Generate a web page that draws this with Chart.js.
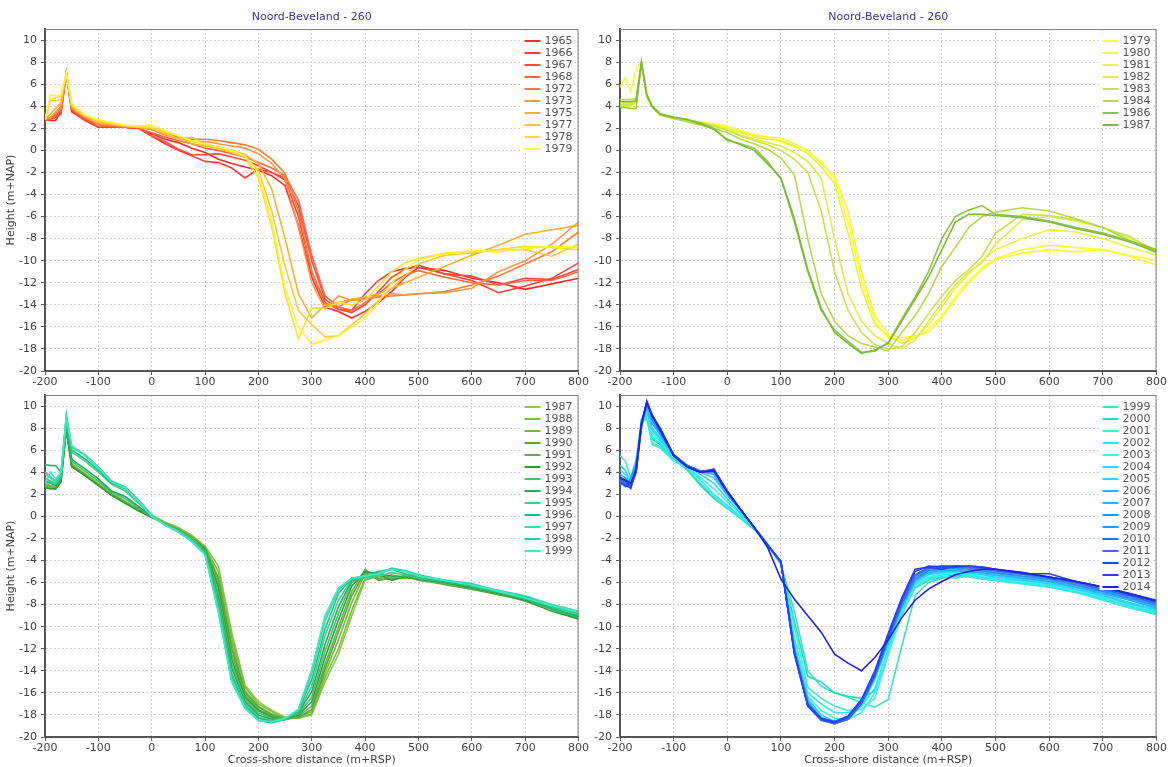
<!DOCTYPE html>
<html>
<head>
<meta charset="utf-8">
<script src="https://cdn.jsdelivr.net/npm/chart.js@4/dist/chart.umd.min.js"></script>
<style>
  html, body { margin: 0; padding: 0; background: #fff; }
  canvas { position: absolute; }
</style>
</head>
<body>
<canvas id="c1" width="590" height="392" style="left:0;top:0"></canvas>
<canvas id="c2" width="584" height="392" style="left:584px;top:0"></canvas>
<canvas id="c3" width="590" height="383" style="left:0;top:384px"></canvas>
<canvas id="c4" width="584" height="383" style="left:584px;top:384px"></canvas>
<script>
// cross-shore distance (m+RSP), shared by every profile
const dist = [-200,-190,-180,-170,-160,-150,-140,-125,-100,-75,-50,-25,0,25,50,75,100,125,150,175,200,225,250,275,300,325,350,375,400,425,450,475,500,550,600,650,700,750,800];
// height axis tick labels
const heightTicks = [-20,-18,-16,-14,-12,-10,-8,-6,-4,-2,0,2,4,6,8,10];

// panel 1: 1965 - 1979
const years1 = ['1965','1966','1967','1968','1972','1973','1975','1977','1978','1979'];
const p1y1965 = [2.8,2.7,2.7,3.6,7.0,3.5,3.2,2.7,2.1,2.1,2.1,2.0,1.5,1.0,0.7,0.2,-0.2,-0.8,-1.2,-1.5,-1.8,-2.3,-3.2,-6.8,-11.5,-14.2,-14.6,-15.2,-14.6,-13.8,-12.8,-11.5,-10.6,-10.9,-11.6,-12.0,-12.6,-12.1,-11.6];
const p1y1966 = [2.8,2.8,3.0,3.3,7.0,3.6,3.3,2.8,2.1,2.1,2.1,2.0,1.3,0.6,0.0,-0.5,-1.0,-1.1,-1.6,-2.5,-1.7,-2.0,-2.7,-6.0,-11.0,-13.8,-14.4,-14.5,-13.0,-11.8,-11.0,-10.7,-10.6,-11.2,-11.8,-12.9,-12.3,-11.6,-10.2];
const p1y1967 = [2.8,2.8,3.2,3.8,7.0,3.7,3.3,2.8,2.2,2.2,2.1,2.0,1.3,0.8,0.1,-0.4,-0.4,-0.3,-0.6,-0.9,-1.4,-2.0,-2.5,-5.0,-10.0,-13.5,-14.4,-14.7,-14.0,-12.8,-11.5,-10.8,-10.4,-11.2,-11.4,-12.2,-11.6,-11.7,-10.8];
const p1y1968 = [2.8,2.8,3.1,3.6,7.0,3.8,3.4,2.9,2.2,2.2,2.1,2.0,1.6,1.2,0.9,0.6,0.2,0.0,-0.3,-0.6,-1.1,-1.6,-2.3,-4.5,-9.5,-13.2,-14.2,-14.5,-13.8,-13.0,-12.0,-11.3,-10.9,-11.5,-12.0,-12.2,-11.8,-11.8,-11.0];
const p1y1972 = [2.8,2.9,3.3,3.8,7.0,3.8,3.4,3.0,2.3,2.3,2.2,2.1,1.9,1.5,1.2,1.0,1.0,0.9,0.7,0.5,0.1,-0.8,-2.1,-5.5,-11.0,-14.0,-14.2,-13.5,-13.4,-13.3,-13.2,-13.1,-13.0,-12.8,-12.2,-11.4,-10.3,-9.2,-7.4];
const p1y1973 = [2.8,3.0,3.5,4.0,7.0,3.9,3.5,3.0,2.4,2.3,2.2,2.1,1.9,1.4,1.1,0.8,0.8,0.6,0.4,0.2,-0.3,-1.2,-2.6,-7.0,-12.0,-14.4,-13.2,-13.6,-13.5,-13.2,-13.0,-13.1,-13.0,-12.9,-12.5,-11.0,-10.0,-8.5,-6.5];
const p1y1975 = [2.8,3.3,3.8,4.3,7.0,4.0,3.5,3.1,2.5,2.4,2.2,2.1,2.0,1.5,1.0,0.6,0.4,0.2,0.0,-0.4,-1.2,-3.5,-8.0,-13.0,-15.2,-14.0,-13.8,-13.5,-13.3,-13.0,-12.5,-12.0,-11.5,-10.5,-9.5,-8.6,-7.6,-7.2,-6.8];
const p1y1977 = [2.8,4.5,4.5,4.6,7.0,4.1,3.6,3.1,2.6,2.4,2.2,2.1,2.0,1.6,1.0,1.2,0.6,0.2,-0.2,-0.6,-1.8,-5.5,-10.5,-14.5,-15.8,-16.9,-16.8,-15.8,-14.8,-13.6,-12.5,-11.4,-10.3,-9.5,-9.3,-9.0,-9.0,-9.6,-8.5];
const p1y1978 = [2.8,4.6,4.8,4.9,7.0,4.2,3.7,3.2,2.7,2.5,2.2,2.2,2.1,1.7,1.3,0.8,0.5,0.3,-0.1,-0.6,-2.5,-7.0,-13.0,-17.1,-14.3,-14.3,-13.8,-14.0,-13.6,-12.3,-11.0,-10.2,-9.8,-9.3,-9.2,-9.0,-8.7,-8.8,-9.0];
const p1y1979 = [2.8,5.0,5.0,5.0,7.0,4.2,3.8,3.2,2.8,2.5,2.3,2.2,2.3,1.8,1.3,0.9,0.6,0.3,0.0,-0.5,-2.0,-6.5,-12.5,-16.0,-17.6,-17.2,-16.8,-16.0,-15.2,-13.8,-12.0,-10.8,-9.9,-9.4,-9.1,-9.2,-8.9,-8.7,-8.8];

// panel 2: 1979 - 1987
const years2 = ['1979','1980','1981','1982','1983','1984','1986','1987'];
const p2y1979 = [4.0,4.0,4.0,4.4,7.8,5.2,4.0,3.3,3.0,2.8,2.6,2.4,2.2,1.8,1.4,1.2,0.8,0.3,-0.2,-1.0,-2.6,-6.5,-11.8,-15.5,-17.0,-17.2,-16.9,-16.2,-15.0,-13.2,-11.8,-10.6,-9.8,-9.0,-8.6,-8.8,-9.0,-9.5,-10.0];
const p2y1980 = [5.7,6.6,5.3,7.4,8.0,5.1,4.0,3.3,2.9,2.7,2.5,2.3,2.1,1.7,1.3,1.2,1.1,0.6,0.0,-1.2,-2.3,-5.5,-11.0,-15.0,-16.6,-17.0,-16.8,-16.5,-15.2,-13.5,-12.0,-10.8,-9.9,-9.3,-9.0,-9.2,-9.0,-9.6,-10.4];
const p2y1981 = [4.3,4.3,4.3,4.6,8.0,5.0,3.9,3.2,2.9,2.7,2.5,2.3,2.0,1.6,1.2,1.0,0.9,0.4,-0.3,-1.5,-3.0,-7.5,-12.5,-15.8,-16.8,-17.5,-17.0,-15.8,-14.2,-12.5,-11.2,-10.0,-9.0,-8.0,-7.2,-7.4,-8.0,-8.8,-9.5];
const p2y1982 = [4.2,4.2,4.2,4.5,7.9,5.0,3.9,3.2,2.9,2.7,2.4,2.2,1.9,1.4,1.0,0.7,0.4,-0.2,-1.0,-2.5,-8.0,-13.0,-15.5,-16.8,-17.5,-18.0,-17.2,-15.5,-13.8,-12.2,-11.0,-10.2,-8.5,-6.3,-6.0,-6.4,-7.0,-8.0,-9.0];
const p2y1983 = [4.1,4.1,4.1,4.4,7.9,4.9,3.9,3.2,2.9,2.7,2.4,2.2,1.8,1.3,0.9,0.5,0.0,-0.8,-2.0,-5.5,-11.0,-14.5,-16.5,-17.6,-18.0,-17.8,-16.5,-14.8,-13.2,-11.8,-10.8,-9.6,-7.5,-5.8,-5.9,-6.3,-7.0,-7.8,-9.2];
const p2y1984 = [4.6,4.6,4.6,4.7,8.0,4.9,3.9,3.2,2.9,2.6,2.3,2.0,1.6,1.0,0.6,0.1,-0.7,-2.2,-8.0,-13.0,-15.5,-16.8,-17.5,-17.8,-18.2,-16.5,-15.0,-13.0,-10.5,-8.8,-7.0,-6.0,-5.6,-5.2,-5.5,-6.2,-7.0,-8.2,-9.3];
const p2y1986 = [3.9,3.9,3.8,3.8,8.0,5.0,4.0,3.3,3.0,2.8,2.5,2.0,0.9,0.6,0.2,-1.0,-2.6,-6.5,-11.0,-14.5,-16.3,-17.3,-18.3,-18.2,-17.4,-15.3,-13.3,-11.0,-8.0,-6.0,-5.4,-5.0,-5.8,-6.0,-6.4,-7.0,-7.5,-8.2,-9.0];
const p2y1987 = [4.4,4.4,4.4,4.5,7.9,5.0,4.0,3.3,3.0,2.8,2.4,1.9,1.0,0.5,0.0,-1.2,-2.5,-6.2,-10.8,-14.3,-16.5,-17.5,-18.4,-18.1,-17.5,-15.5,-13.5,-11.5,-9.0,-6.5,-5.8,-5.8,-5.9,-6.1,-6.5,-7.1,-7.6,-8.3,-9.2];

// panel 3: 1987 - 1999
const years3 = ['1987','1988','1989','1990','1991','1992','1993','1994','1995','1996','1997','1998','1999'];
const p3y1987 = [2.8,2.6,2.6,3.5,8.0,4.8,4.4,3.9,3.0,2.1,1.4,0.7,0.1,-0.5,-1.0,-1.7,-2.7,-4.5,-10.5,-15.3,-16.8,-17.6,-18.2,-18.3,-18.0,-15.0,-12.5,-9.0,-5.8,-5.4,-5.5,-5.6,-5.5,-5.9,-6.3,-6.9,-7.4,-8.0,-8.6];
const p3y1988 = [3.0,2.8,2.7,3.6,7.9,4.7,4.3,3.8,2.9,2.0,1.3,0.6,0.0,-0.6,-1.1,-1.8,-2.8,-5.0,-11.0,-15.5,-17.0,-17.7,-18.3,-18.3,-17.9,-14.6,-12.0,-8.5,-5.6,-5.5,-5.3,-5.6,-5.6,-6.0,-6.4,-6.8,-7.3,-8.1,-8.9];
const p3y1989 = [2.9,2.7,2.6,3.4,8.0,4.6,4.2,3.8,2.9,2.0,1.3,0.6,0.0,-0.6,-1.1,-1.9,-2.9,-5.5,-11.5,-15.8,-17.2,-17.9,-18.3,-18.2,-17.7,-14.2,-11.2,-7.8,-5.2,-5.6,-5.5,-5.4,-5.7,-6.1,-6.5,-6.9,-7.4,-8.3,-9.1];
const p3y1990 = [2.7,2.5,2.5,3.3,7.9,4.5,4.2,3.7,2.8,1.9,1.2,0.5,0.0,-0.7,-1.2,-1.9,-2.9,-5.8,-12.0,-16.0,-17.3,-18.0,-18.4,-18.2,-17.5,-13.8,-10.5,-7.2,-5.0,-5.8,-5.6,-5.5,-5.7,-6.2,-6.6,-7.1,-7.6,-8.4,-9.3];
const p3y1991 = [2.8,2.6,2.5,3.2,8.0,4.6,4.3,3.8,2.9,2.0,1.3,0.6,0.0,-0.7,-1.2,-2.0,-3.0,-6.2,-12.5,-16.2,-17.5,-18.1,-18.4,-18.1,-17.2,-13.4,-10.0,-6.8,-4.8,-5.7,-5.7,-5.4,-5.8,-6.1,-6.6,-7.0,-7.7,-8.5,-9.2];
const p3y1992 = [2.6,2.5,2.5,3.1,7.9,4.5,4.2,3.7,2.8,1.9,1.2,0.5,-0.1,-0.7,-1.3,-2.0,-3.0,-6.5,-13.0,-16.4,-17.6,-18.2,-18.4,-18.0,-16.8,-12.8,-9.4,-6.3,-5.0,-5.2,-5.8,-5.5,-5.7,-6.0,-6.5,-7.0,-7.6,-8.6,-9.3];
const p3y1993 = [3.5,3.2,2.9,3.6,8.3,5.0,4.6,4.1,3.2,2.2,1.6,0.8,0.0,-0.7,-1.3,-2.0,-3.1,-7.0,-13.4,-16.6,-17.8,-18.3,-18.4,-17.9,-16.4,-12.2,-8.8,-6.0,-5.3,-5.0,-5.6,-5.4,-5.6,-5.9,-6.4,-6.9,-7.5,-8.5,-9.0];
const p3y1994 = [3.2,3.0,2.8,3.5,8.5,5.2,4.8,4.3,3.4,2.3,1.8,0.9,0.0,-0.7,-1.3,-2.1,-3.1,-7.4,-13.8,-16.8,-18.0,-18.4,-18.4,-17.8,-15.9,-11.6,-8.2,-5.8,-5.5,-5.2,-5.4,-5.5,-5.6,-6.0,-6.3,-6.8,-7.5,-8.3,-9.1];
const p3y1995 = [4.0,3.6,3.2,3.8,8.8,5.8,5.5,5.0,4.0,2.9,2.3,1.2,0.1,-0.7,-1.3,-2.1,-3.2,-7.8,-14.2,-17.0,-18.2,-18.5,-18.4,-17.7,-15.4,-10.8,-7.6,-5.7,-5.6,-5.4,-5.1,-5.3,-5.6,-5.9,-6.3,-6.8,-7.4,-8.2,-8.9];
const p3y1996 = [4.7,4.6,4.6,4.0,9.0,6.0,5.7,5.2,4.2,3.0,2.5,1.4,0.1,-0.7,-1.4,-2.2,-3.3,-8.1,-14.5,-17.2,-18.3,-18.6,-18.4,-17.6,-14.8,-10.2,-7.0,-5.6,-5.5,-5.0,-4.8,-5.2,-5.5,-5.9,-6.4,-6.9,-7.5,-8.3,-9.2];
const p3y1997 = [3.8,3.5,3.0,3.7,9.1,6.2,6.0,5.5,4.4,3.1,2.6,1.5,0.1,-0.8,-1.4,-2.2,-3.4,-8.4,-14.8,-17.3,-18.5,-18.7,-18.4,-17.5,-14.3,-9.5,-6.7,-5.6,-5.4,-5.2,-4.7,-5.0,-5.4,-5.8,-6.2,-6.7,-7.2,-8.0,-8.6];
const p3y1998 = [3.3,3.1,2.9,3.6,9.2,6.3,6.0,5.6,4.5,3.2,2.7,1.5,0.1,-0.8,-1.4,-2.3,-3.4,-8.6,-15.0,-17.4,-18.5,-18.7,-18.4,-17.5,-14.0,-9.1,-6.6,-5.6,-5.5,-5.3,-4.7,-4.9,-5.3,-5.8,-6.1,-6.8,-7.3,-8.2,-8.8];
const p3y1999 = [3.0,4.0,3.4,4.0,9.0,6.4,6.1,5.5,4.4,3.1,2.6,1.4,0.0,-0.8,-1.4,-2.3,-3.5,-8.7,-15.0,-17.4,-18.5,-18.6,-18.3,-17.5,-13.9,-9.0,-6.5,-5.6,-5.4,-5.2,-4.8,-5.0,-5.4,-5.8,-6.2,-6.8,-7.4,-8.1,-8.7];

// panel 4: 1999 - 2014
const years4 = ['1999','2000','2001','2002','2003','2004','2005','2006','2007','2008','2009','2010','2011','2012','2013','2014'];
const p4y1999 = [3.0,3.4,3.5,4.6,8.6,8.8,6.7,6.3,5.2,4.2,2.8,1.6,0.7,-0.2,-1.2,-2.6,-4.4,-8.6,-14.0,-15.4,-16.0,-16.4,-16.9,-17.3,-16.6,-11.8,-7.2,-6.0,-5.6,-5.4,-5.5,-5.7,-5.8,-6.1,-6.4,-6.9,-7.5,-8.2,-8.9];
const p4y2000 = [4.6,4.2,3.0,4.8,8.8,9.2,7.0,6.5,5.3,4.3,2.9,1.7,0.8,-0.1,-1.1,-2.5,-4.3,-9.5,-14.5,-15.0,-16.0,-16.3,-16.5,-15.8,-12.2,-8.8,-6.5,-5.8,-5.5,-5.3,-5.3,-5.5,-5.7,-6.0,-6.3,-6.8,-7.4,-8.0,-8.7];
const p4y2001 = [5.5,5.0,3.5,5.2,8.5,9.0,6.5,6.2,5.0,4.4,3.0,1.8,0.8,-0.1,-1.1,-2.5,-4.3,-10.0,-15.5,-16.5,-17.2,-17.6,-17.5,-16.5,-12.5,-9.0,-6.4,-5.7,-5.4,-5.6,-5.4,-5.6,-5.8,-6.1,-6.4,-6.9,-7.6,-8.3,-8.9];
const p4y2002 = [4.2,3.8,3.2,4.5,8.7,9.3,7.2,6.6,5.4,4.5,3.3,2.0,1.0,0.0,-1.0,-2.5,-4.2,-11.0,-16.0,-17.0,-17.8,-17.8,-17.2,-15.6,-12.0,-8.6,-6.2,-5.6,-5.3,-5.2,-5.3,-5.5,-5.7,-6.0,-6.3,-6.8,-7.4,-8.1,-8.8];
const p4y2003 = [3.5,3.0,3.0,4.2,8.8,9.5,7.5,6.8,5.5,4.5,3.5,2.5,1.3,0.2,-1.0,-2.5,-4.2,-11.5,-16.3,-17.6,-18.3,-18.4,-17.8,-16.0,-12.3,-8.7,-6.1,-5.5,-5.2,-5.1,-5.2,-5.4,-5.6,-5.9,-6.2,-6.7,-7.3,-8.0,-8.6];
const p4y2004 = [3.2,2.9,3.1,4.4,8.6,9.6,7.8,7.0,5.5,4.6,3.8,3.0,1.6,0.3,-1.0,-2.5,-4.2,-11.8,-16.5,-18.0,-18.6,-18.4,-17.2,-14.8,-11.6,-8.4,-6.0,-5.3,-5.1,-5.0,-5.1,-5.3,-5.5,-5.8,-6.1,-6.6,-7.2,-7.9,-8.5];
const p4y2005 = [3.0,2.7,3.3,4.5,8.5,9.8,8.0,7.2,5.5,4.6,4.0,3.5,1.9,0.5,-1.0,-2.6,-4.2,-12.0,-16.7,-18.2,-18.7,-18.4,-17.0,-14.6,-11.4,-8.3,-5.9,-5.2,-5.0,-5.0,-5.0,-5.2,-5.4,-5.7,-6.0,-6.5,-7.1,-7.8,-8.4];
const p4y2006 = [3.4,3.0,2.8,4.3,8.4,10.0,8.4,7.4,5.6,4.6,4.1,3.8,2.0,0.6,-1.0,-2.6,-4.2,-12.0,-16.8,-18.3,-18.7,-18.4,-16.9,-14.5,-11.3,-8.2,-5.8,-5.1,-4.9,-4.9,-5.0,-5.1,-5.3,-5.6,-5.9,-6.4,-7.0,-7.6,-8.3];
const p4y2007 = [3.8,3.5,3.0,4.6,8.3,10.1,8.6,7.5,5.5,4.6,4.1,4.0,2.1,0.6,-1.0,-2.6,-4.2,-12.2,-16.9,-18.3,-18.8,-18.3,-16.9,-14.5,-11.2,-8.2,-5.8,-5.0,-4.8,-4.8,-4.9,-5.0,-5.2,-5.5,-5.8,-6.3,-6.9,-7.5,-8.2];
const p4y2008 = [3.0,2.8,3.4,4.8,8.2,10.2,8.8,7.6,5.5,4.6,4.1,4.1,2.2,0.6,-1.0,-2.6,-4.2,-12.2,-16.9,-18.3,-18.7,-18.3,-16.9,-14.4,-11.1,-8.1,-5.7,-4.9,-4.7,-4.7,-4.8,-4.9,-5.1,-5.4,-5.7,-6.2,-6.8,-7.4,-8.1];
const p4y2009 = [3.2,2.7,3.1,4.2,8.0,10.3,9.0,7.7,5.6,4.6,4.1,4.2,2.2,0.6,-1.0,-2.6,-4.2,-12.3,-17.0,-18.4,-18.8,-18.4,-16.9,-14.5,-11.1,-8.0,-5.6,-4.8,-4.6,-4.6,-4.7,-4.8,-5.0,-5.3,-5.7,-6.1,-6.7,-7.3,-8.0];
const p4y2010 = [3.6,3.2,2.6,4.0,8.1,10.4,9.1,7.8,5.6,4.6,4.1,4.2,2.3,0.6,-1.0,-2.6,-4.1,-12.4,-17.1,-18.4,-18.8,-18.4,-17.0,-14.5,-11.0,-7.9,-5.4,-4.7,-4.5,-4.5,-4.6,-4.7,-4.9,-5.2,-5.6,-6.0,-6.6,-7.2,-7.9];
const p4y2011 = [3.3,3.0,2.5,4.4,8.3,10.3,9.2,7.9,5.5,4.5,4.0,4.2,2.2,0.6,-1.0,-2.6,-4.1,-12.5,-17.2,-18.5,-18.8,-18.3,-16.8,-14.3,-10.9,-7.8,-5.3,-4.6,-4.5,-4.5,-4.6,-4.7,-4.9,-5.2,-5.5,-6.0,-6.5,-7.1,-7.8];
const p4y2012 = [3.1,2.8,2.6,4.2,8.4,10.4,9.1,8.0,5.6,4.5,4.0,4.3,2.3,0.6,-1.0,-2.6,-4.1,-12.4,-17.2,-18.4,-18.7,-18.2,-16.7,-14.2,-10.8,-7.6,-5.0,-4.5,-4.6,-4.6,-4.5,-4.6,-4.8,-5.1,-5.5,-5.9,-6.4,-7.1,-7.7];
const p4y2013 = [3.4,3.2,2.7,4.0,8.5,10.4,9.2,7.9,5.5,4.5,4.0,4.2,2.2,0.6,-1.0,-2.6,-4.1,-12.3,-17.1,-18.3,-18.6,-18.1,-16.6,-14.0,-10.6,-7.4,-4.8,-4.6,-4.8,-4.5,-4.5,-4.6,-4.8,-5.2,-5.2,-5.9,-6.4,-7.0,-7.6];
const p4y2014 = [3.5,3.3,3.0,4.2,8.4,10.3,9.1,7.8,5.5,4.5,4.0,4.1,2.2,0.6,-1.0,-2.8,-5.7,-7.5,-9.0,-10.5,-12.5,-13.3,-14.0,-12.8,-11.2,-9.2,-7.6,-6.6,-5.9,-5.3,-5.0,-4.8,-4.8,-5.1,-5.5,-5.9,-6.4,-7.0,-7.7];

const colors1 = ['#ff2b2b','#ff3d35','#ff4a3c','#ff6645','#ff7d33','#ff9848','#ffae2e','#ffc93a','#ffdf2e','#fff23a'];
const colors2 = ['#ffff38','#f8f83a','#ecf23e','#e0ec48','#cde24a','#b8d94e','#8ec63f','#7dbb3c'];
const colors3 = ['#8cc84b','#7cbf3f','#72ba45','#58a82f','#5fb150','#2f9e35','#4dbe6e','#22ac58','#4cc98c','#1fbe7c','#45dba8','#1fd49e','#40e8c8'];
const colors4 = ['#40e0c0','#1fdcc0','#40e8dc','#1ff0f0','#40f0f4','#1fdcf4','#40ccf8','#1fb4f4','#40aaf8','#1f94f4','#4090f8','#1f70f0','#4068f8','#1f48f0','#3040f0','#2020e8'];

const FONT = 'DejaVu Sans';

// frame, in-plot legend and title
const frame = {
  id: 'frame',
  afterDraw(chart, args, o) {
    const { ctx, chartArea: a } = chart;
    ctx.save();
    ctx.strokeStyle = '#808080';
    ctx.lineWidth = 1;
    ctx.beginPath();
    ctx.moveTo(a.left, a.top + 0.5);
    ctx.lineTo(a.right - 0.5, a.top + 0.5);
    ctx.lineTo(a.right - 0.5, a.bottom);
    ctx.stroke();

    const sets = chart.data.datasets;
    const rowH = 12;
    const y0 = a.top + 12;
    ctx.fillStyle = '#fff';
    ctx.fillRect(a.right - 57, y0 - 7, 52, rowH * sets.length - 2);
    ctx.font = '11px "' + FONT + '"';
    ctx.textBaseline = 'middle';
    ctx.textAlign = 'left';
    sets.forEach((d, i) => {
      const y = y0 + i * rowH;
      ctx.strokeStyle = d.borderColor;
      ctx.lineWidth = 2;
      ctx.beginPath();
      ctx.moveTo(a.right - 54, y);
      ctx.lineTo(a.right - 38, y);
      ctx.stroke();
      ctx.fillStyle = '#555';
      ctx.fillText(d.label, a.right - 34, y + 0.5);
    });

    if (o.title) {
      ctx.fillStyle = '#34349a';
      ctx.textAlign = 'center';
      ctx.font = '11px "' + FONT + '"';
      ctx.fillText(o.title, (a.left + a.right) / 2, 17);
    }
    ctx.restore();
  }
};

function makePanel(id, years, heights, colors, opt) {
  const datasets = years.map((yr, i) => ({
    label: yr,
    data: dist.map((x, j) => ({ x: x, y: heights[i][j] })),
    borderColor: colors[i],
    borderWidth: 1.6,
    pointRadius: 0,
    tension: 0,
    fill: false,
    order: years.length - i
  }));
  const tickFont = { family: FONT, size: 11 };
  new Chart(document.getElementById(id), {
    type: 'line',
    data: { datasets: datasets },
    options: {
      responsive: false,
      animation: false,
      events: [],
      layout: { padding: { top: opt.top, right: opt.right, left: 0, bottom: 0 } },
      plugins: {
        legend: { display: false },
        tooltip: { enabled: false },
        frame: { title: opt.title }
      },
      scales: {
        x: {
          type: 'linear',
          min: -200, max: 800,
          ticks: { stepSize: 100, autoSkip: false, maxRotation: 0, color: '#444', font: tickFont, padding: 1 },
          grid: { color: '#d2d2d2', tickLength: 4, tickColor: '#666' },
          border: { display: true, color: '#555', width: 2, dash: [2, 2] },
          title: { display: !!opt.xTitle, text: opt.xTitle || '', color: '#444', font: tickFont, padding: 0 },
          afterFit: s => { s.height = opt.xh; }
        },
        y: {
          min: -20, max: 11,
          afterBuildTicks: s => { s.ticks = heightTicks.map(v => ({ value: v })); },
          ticks: { color: '#444', font: tickFont, padding: 4 },
          grid: { color: '#d2d2d2', tickLength: 4, tickColor: '#666' },
          border: { display: true, color: '#555', width: 2, dash: [2, 2] },
          title: { display: !!opt.yTitle, text: opt.yTitle || '', color: '#444', font: tickFont, padding: { top: 5, bottom: 0 } },
          afterFit: s => { s.width = opt.yw; }
        }
      }
    },
    plugins: [frame]
  });
}

makePanel('c1', years1,
  [p1y1965, p1y1966, p1y1967, p1y1968, p1y1972, p1y1973, p1y1975, p1y1977, p1y1978, p1y1979],
  colors1, { top: 29, right: 7, xh: 21, yw: 45, title: 'Noord-Beveland - 260', yTitle: 'Height (m+NAP)' });
makePanel('c2', years2,
  [p2y1979, p2y1980, p2y1981, p2y1982, p2y1983, p2y1984, p2y1986, p2y1987],
  colors2, { top: 29, right: 11, xh: 21, yw: 36, title: 'Noord-Beveland - 260' });
makePanel('c3', years3,
  [p3y1987, p3y1988, p3y1989, p3y1990, p3y1991, p3y1992, p3y1993, p3y1994, p3y1995, p3y1996, p3y1997, p3y1998, p3y1999],
  colors3, { top: 11, right: 7, xh: 30, yw: 45, yTitle: 'Height (m+NAP)', xTitle: 'Cross-shore distance (m+RSP)' });
makePanel('c4', years4,
  [p4y1999, p4y2000, p4y2001, p4y2002, p4y2003, p4y2004, p4y2005, p4y2006, p4y2007, p4y2008, p4y2009, p4y2010, p4y2011, p4y2012, p4y2013, p4y2014],
  colors4, { top: 11, right: 11, xh: 30, yw: 36, xTitle: 'Cross-shore distance (m+RSP)' });
</script>
</body>
</html>
